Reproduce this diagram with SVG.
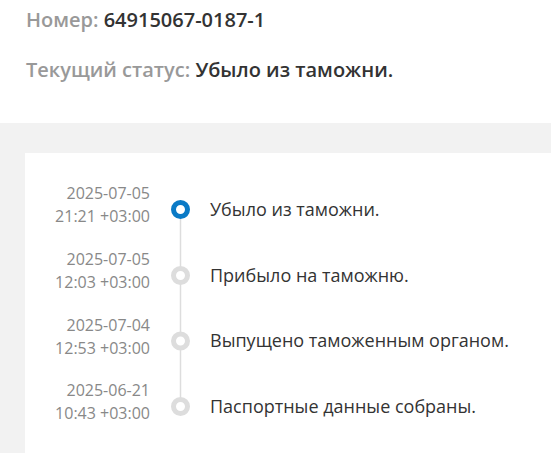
<svg xmlns="http://www.w3.org/2000/svg" width="551" height="453" viewBox="0 0 551 453">
<style>
.lbl{font-family:"Open Sans","Liberation Sans",sans-serif;font-size:20px;font-weight:600;fill:#999}
.val{fill:#333}
.date{font-family:"Open Sans","Liberation Sans",sans-serif;font-size:16px;fill:#888;text-anchor:end}
.ev{font-family:"Open Sans","Liberation Sans",sans-serif;font-size:18px;fill:#333}
.dot{fill:#fff;stroke:#ddd;stroke-width:5}
.dot.cur{stroke:#0a7ac6}
</style>
<rect x="0" y="0" width="551" height="453" fill="#fff"/>
<g id="header">
<text class="lbl" x="26" y="27">Номер: <tspan class="val">64915067-0187-1</tspan></text>
<text class="lbl" x="26" y="77">Текущий статус: <tspan class="val">Убыло из таможни.</tspan></text>
</g>
<rect x="0" y="123" width="551" height="330" fill="#f2f2f2"/>
<rect x="25" y="153" width="526" height="300" fill="#fff"/>
<g id="connectors">
<line x1="180.5" y1="210" x2="180.5" y2="407" stroke="#ddd" stroke-width="1.5"/>
</g>
<g id="event1">
<text class="date" x="150" y="199">2025-07-05</text>
<text class="date" x="150" y="222">21:21 +03:00</text>
<circle class="dot cur" cx="180.5" cy="209.5" r="7"/>
<text class="ev" x="210" y="216">Убыло из таможни.</text>
</g>
<g id="event2">
<text class="date" x="150" y="265">2025-07-05</text>
<text class="date" x="150" y="288">12:03 +03:00</text>
<circle class="dot" cx="180.5" cy="275.5" r="7"/>
<text class="ev" x="210" y="282">Прибыло на таможню.</text>
</g>
<g id="event3">
<text class="date" x="150" y="331">2025-07-04</text>
<text class="date" x="150" y="354">12:53 +03:00</text>
<circle class="dot" cx="180.5" cy="341" r="7"/>
<text class="ev" x="210" y="347">Выпущено таможенным органом.</text>
</g>
<g id="event4">
<text class="date" x="150" y="396">2025-06-21</text>
<text class="date" x="150" y="419">10:43 +03:00</text>
<circle class="dot" cx="180.5" cy="406.5" r="7"/>
<text class="ev" x="210" y="413">Паспортные данные собраны.</text>
</g>
</svg>
